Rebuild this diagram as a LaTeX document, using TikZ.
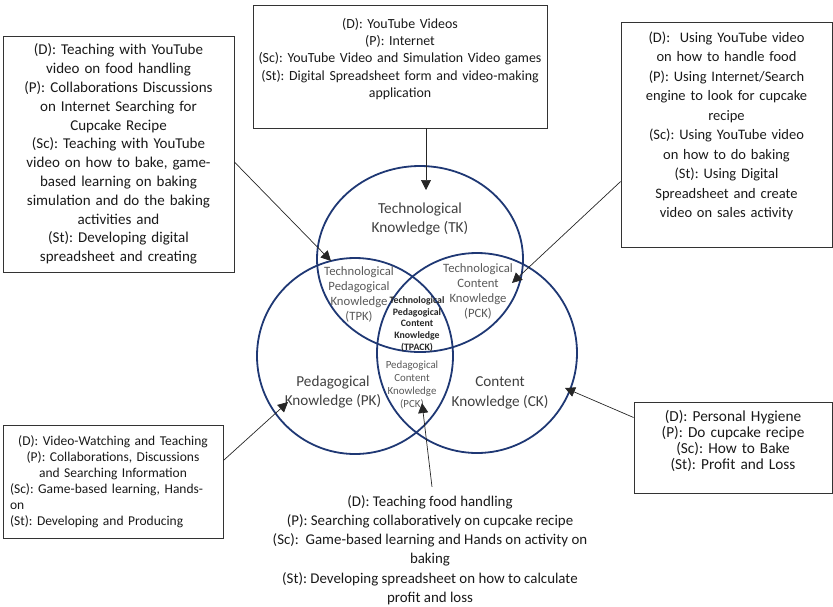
\documentclass[tikz,border=0pt]{standalone}
\usepackage{fontspec}
\setmainfont{Carlito}
\usetikzlibrary{arrows.meta, positioning, shapes.geometric}
\frenchspacing

\definecolor{ringblue}{RGB}{31,56,116}
\definecolor{labelgray}{RGB}{64,64,64}
\definecolor{smallgray}{RGB}{89,89,89}

\newcommand{\fsz}[2]{\fontsize{#1}{#2}\selectfont}

\begin{document}
\begin{tikzpicture}[
    x=1pt, y=-1pt,
    ring/.style={draw=ringblue, line width=1.8pt, inner sep=0pt},
    box/.style={draw=black!80, line width=0.8pt, inner xsep=6pt, inner ysep=0pt, align=center, text=black!90},
    big/.style={text=labelgray, align=center, inner sep=0pt},
    small/.style={text=smallgray, align=center, inner sep=0pt, font=\fsz{12.7}{15}},
    pointer/.style={-{Triangle[length=10pt, width=10pt]}, line width=0.7pt, draw=black!85}
]
    \useasboundingbox (0,0) rectangle (833,606);

    % --- Circles ---
    \node[ring, ellipse, minimum width=206pt, minimum height=186pt] (tk) at (420,259) {};
    \node[ring, circle, minimum size=196pt] (pk) at (355,356) {};
    \node[ring, circle, minimum size=200pt] (ck) at (477,353) {};

    % --- Circle labels ---
    \node[big, font=\fsz{15.3}{19.5}] (tklab) at (420,219) {Technological\\Knowledge (TK)};
    \node[big, font=\fsz{15.2}{19.5}] (pklab) at (333,392) {Pedagogical\\Knowledge (PK)};
    \node[big, font=\fsz{15.2}{19.5}] (cklab) at (500,393) {Content\\Knowledge (CK)};
    \node[small] (tpklab) at (359,294) {Technological\\Pedagogical\\Knowledge\\(TPK)};
    \node[small] (tcklab) at (478,291) {Technological\\Content\\Knowledge\\(PCK)};
    \node[small, font=\fsz{10.9}{13}] (pcklab) at (412,385) {Pedagogical\\Content\\Knowledge\\(PCK)};
    \node[big, text=black!85, font=\bfseries\fsz{9.8}{11.7}] (tpacklab) at (417,324) {Technological\\Pedagogical\\Content\\Knowledge\\(TPACK)};

    % --- Boxes ---
    \node[box, text width=219pt, minimum height=236pt, font=\fsz{15}{18.8}] (tlbox) at (118.5,154) {(D): Teaching with YouTube\\video on food handling\\(P): Collaborations Discussions\\on Internet Searching for\\Cupcake Recipe\\(Sc): Teaching with YouTube\\video on how to bake, game-\\based learning on baking\\simulation and do the baking\\activities and\\(St): Developing digital\\spreadsheet and creating};
    \node[box, inner xsep=2pt, text width=290pt, minimum height=123pt, font=\fsz{13.9}{17.4}] (tcbox) at (400,66.5) {(D): YouTube Videos\\(P): Internet\\(Sc): YouTube Video and Simulation Video games\\(St): Digital Spreadsheet form and video-making\\application\\\mbox{}};
    \node[box, text width=199pt, minimum height=225pt, font=\fsz{14.5}{19.5}] (trbox) at (726.5,134.5) {(D):\ \ Using YouTube video\\on how to handle food\\(P): Using Internet/Search\\engine to look for cupcake\\recipe\\(Sc): Using YouTube video\\on how to do baking\\(St): Using Digital\\Spreadsheet and create\\video on sales activity\\\mbox{}};
    \node[box, align=left, inner xsep=7pt, text width=206pt, minimum height=113pt, font=\fsz{13.5}{16}] (blbox) at (113,481.5) {\centering (D): Video-Watching and Teaching\\(P): Collaborations, Discussions\\and Searching Information\par\raggedright (Sc): Game-based learning, Hands-\\on\\(St): Developing and Producing};
    \node[box, text width=186pt, minimum height=91pt, font=\fsz{15.3}{16}] (brbox) at (733,447.5) {(D): Personal Hygiene\\(P): Do cupcake recipe\\(Sc): How to Bake\\(St): Profit and Loss\\\mbox{}};
    \node[align=center, inner sep=0pt, text=black!90, font=\fsz{14.9}{19.3}] (bottext) at (430,550) {(D): Teaching food handling\\(P): Searching collaboratively on cupcake recipe\\(Sc):\ \ Game-based learning and Hands on activity on\\baking\\(St): Developing spreadsheet on how to calculate\\profit and loss};

    % --- Arrow targets ---
    \coordinate (tkin) at (426,190);
    \coordinate (tpkin) at (331,261);
    \coordinate (tckin) at (512,283);
    \coordinate (ckin) at (565,388);
    \coordinate (pkin) at (288,402);
    \coordinate (pckin) at (422,403);

    % --- Connections ---
    \draw[pointer] (tcbox.south -| tkin) -- (tkin);
    \draw[pointer] ([yshift=-8pt]tlbox.east) -- (tpkin);
    \draw[pointer] ([yshift=-47pt]trbox.west) -- (tckin);
    \draw[pointer] ([yshift=30pt]brbox.west) -- (ckin);
    \draw[pointer] ([yshift=21pt]blbox.east) -- (pkin);
    \draw[pointer] ([xshift=2pt, yshift=8pt]bottext.north) -- (pckin);

\end{tikzpicture}
\end{document}
